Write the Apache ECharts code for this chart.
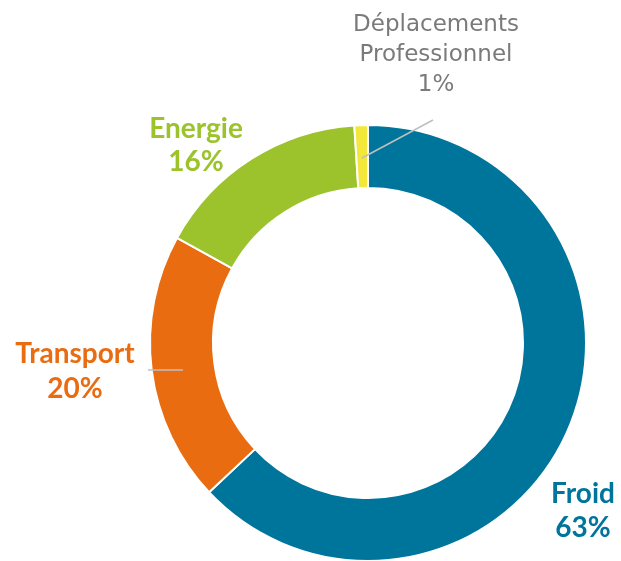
<!DOCTYPE html>
<html>
<head>
<meta charset="utf-8">
<script src="https://cdn.jsdelivr.net/npm/echarts@6/dist/echarts.min.js"></script>
<style>
html, body { margin: 0; padding: 0; background: #fff; }
#chart { width: 621px; height: 561px; }
</style>
</head>
<body>
<div id="chart"></div>
<script>
var categories = ['Froid', 'Transport', 'Energie', 'Déplacements\nProfessionnel'];
var values = [63, 20, 16, 1];
var colors = ['#00759c', '#e96c11', '#9cc22c', '#f3e73a'];

// label anchors and leader lines, by slice
var labelPos = [
	{ x: 583, y: 511, line: null },
	{ x: 75, y: 371, line: [[148, 370], [183, 370]] },
	{ x: 196, y: 145, line: null },
	{ x: 436, y: 55, line: [[433, 120], [362, 158]] }
];
var labelStyle = [
	{ color: '#00759c', fontSize: 28, fontWeight: 'bold', lineHeight: 34, font: 'Lato' },
	{ color: '#e96c11', fontSize: 28, fontWeight: 'bold', lineHeight: 35, font: 'Lato' },
	{ color: '#9cc22c', fontSize: 28, fontWeight: 'bold', lineHeight: 33, font: 'Lato' },
	{ color: '#7a7a7a', fontSize: 23, fontWeight: 'normal', lineHeight: 30, font: '"DejaVu Sans"' }
];

var byId = function(id) {
	return document.getElementById(id);
};

var ringData = categories.map(function(name, i) {
	return { name: name, value: values[i], itemStyle: { color: colors[i] } };
});

// transparent copy on top, carries the labels so leader lines sit over the ring
var labelData = categories.map(function(name, i) {
	var s = labelStyle[i];
	return {
		name: name,
		value: values[i],
		label: {
			color: s.color,
			fontSize: s.fontSize,
			fontWeight: s.fontWeight,
			lineHeight: s.lineHeight,
			fontFamily: s.font
		},
		labelLine: { show: !!labelPos[i].line }
	};
});

var chart = echarts.init(byId('chart'));
chart.setOption({
	animation: false,
	series: [{
		type: 'pie',
		z: 1,
		center: [368, 343],
		radius: [155, 218],
		startAngle: 90,
		clockwise: true,
		silent: true,
		itemStyle: { borderColor: '#fff', borderWidth: 2 },
		label: { show: false },
		labelLine: { show: false },
		data: ringData
	}, {
		type: 'pie',
		z: 5,
		center: [368, 343],
		radius: [155, 218],
		startAngle: 90,
		clockwise: true,
		silent: true,
		itemStyle: { color: 'rgba(0,0,0,0)', borderWidth: 0 },
		label: {
			show: true,
			formatter: '{b}\n{c}%',
			overflow: 'none',
			align: 'center'
		},
		labelLine: {
			lineStyle: { color: '#bfbfbf', width: 1.5 }
		},
		labelLayout: function(params) {
			var p = labelPos[params.dataIndex];
			var out = { x: p.x, y: p.y, align: 'center', verticalAlign: 'middle' };
			if (p.line) out.labelLinePoints = [p.line[0], p.line[0], p.line[1]];
			return out;
		},
		data: labelData
	}]
});
</script>
</body>
</html>
